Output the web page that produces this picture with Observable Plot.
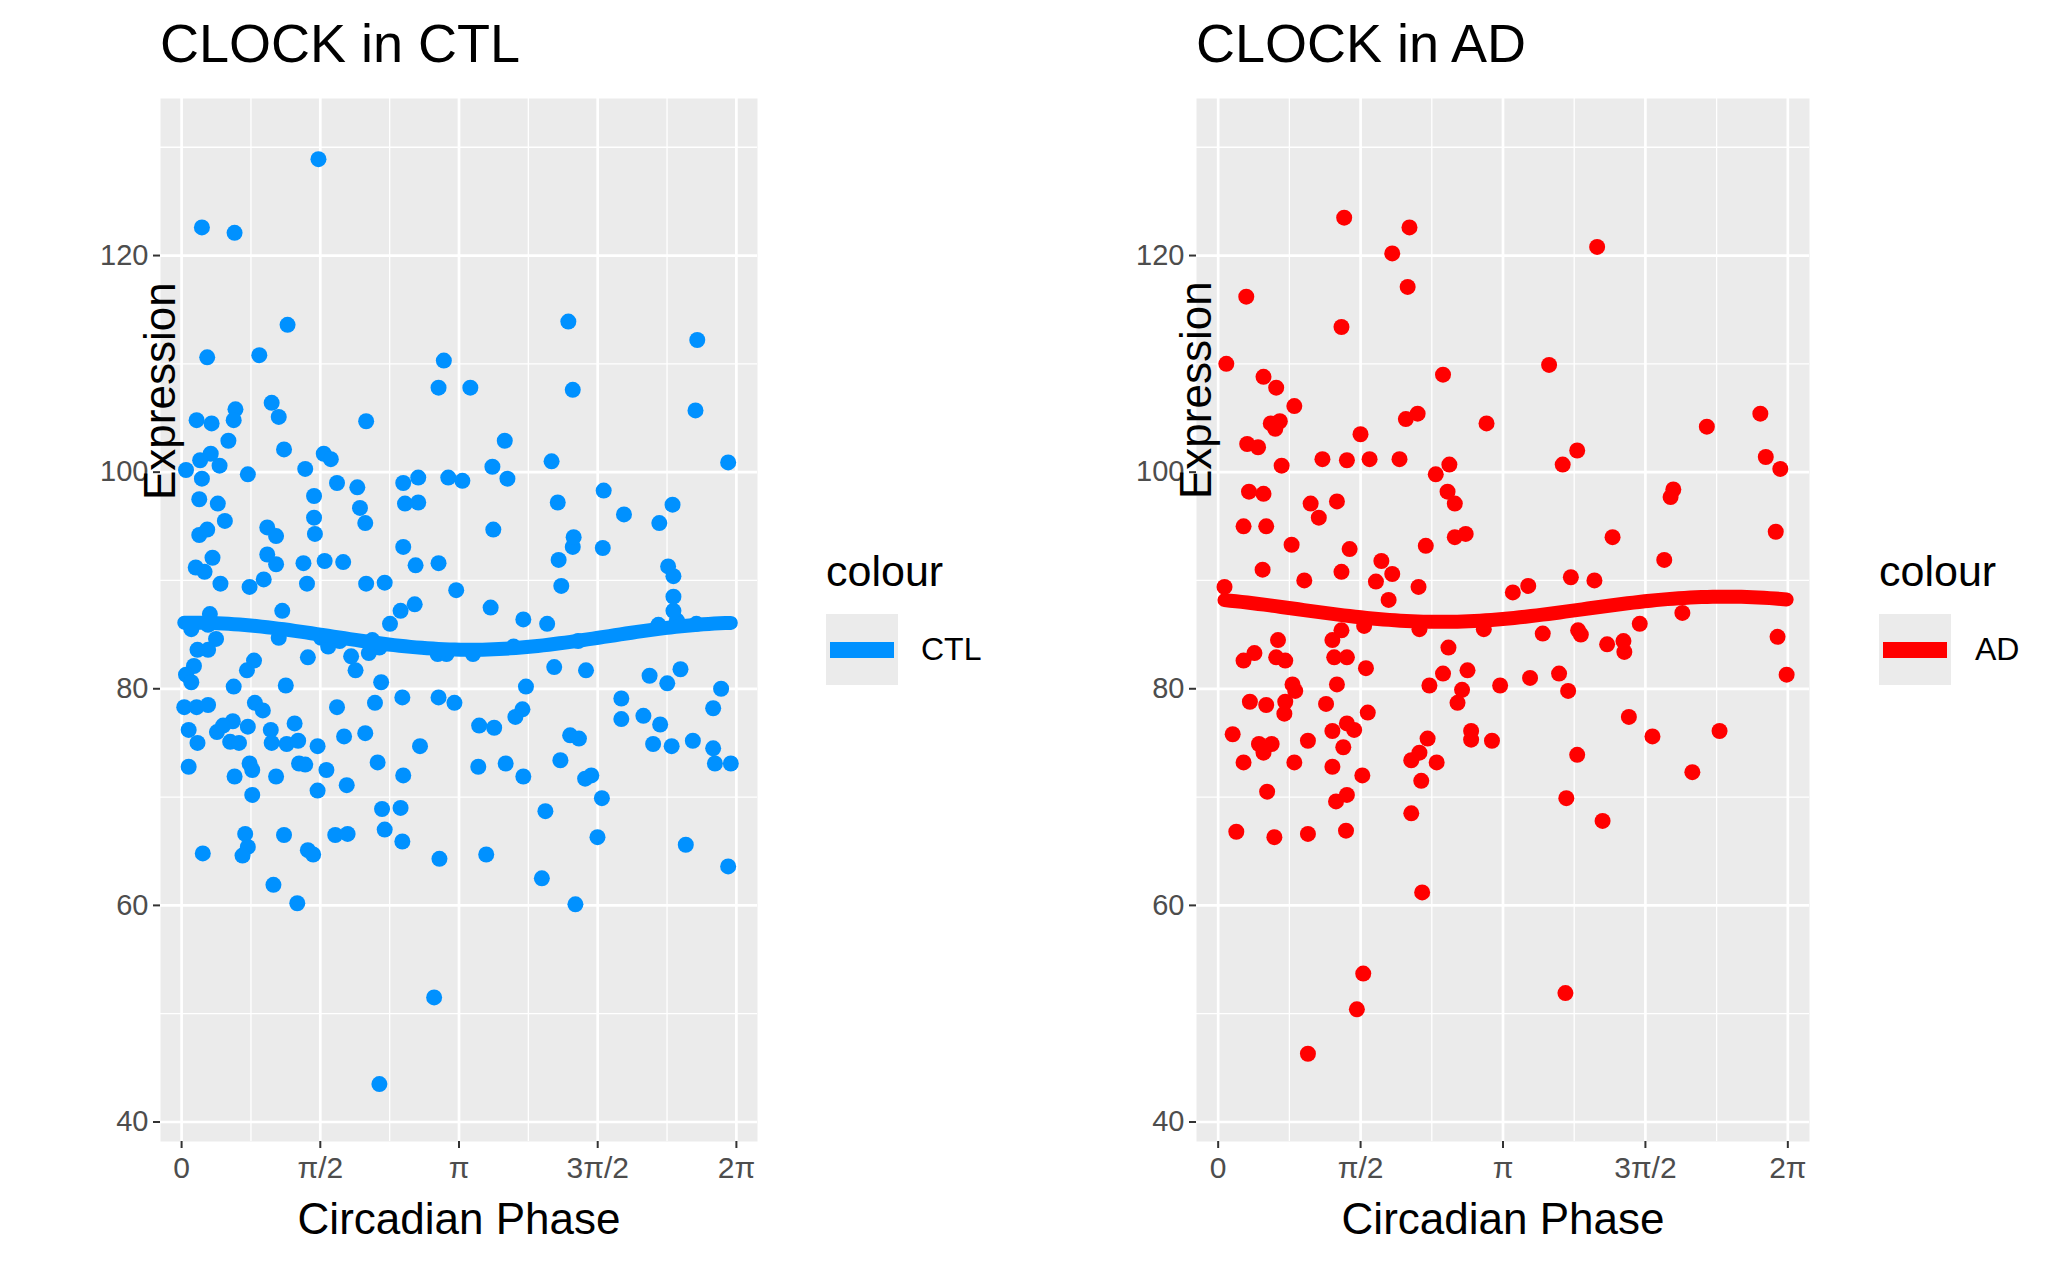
<!DOCTYPE html>
<html>
<head>
<meta charset="utf-8">
<script src="https://cdn.jsdelivr.net/npm/d3@7"></script>
<script src="https://cdn.jsdelivr.net/npm/@observablehq/plot@0.6"></script>
<style>
  body { margin: 0; background: white; font-family: "Liberation Sans", Arial, sans-serif; }
  #page { position: relative; width: 2071px; height: 1280px; overflow: hidden; }
  .panel { position: absolute; top: 0; width: 1035px; height: 1280px; }
  .title { position: absolute; top: 12px; font-size: 54px; color: black; white-space: nowrap; }
  .legtitle { position: absolute; top: 547px; font-size: 43px; color: black; }
  .key { position: absolute; top: 614px; width: 72px; height: 71px; background: #EBEBEB; }
  .key .ln { position: absolute; left: 4px; right: 4px; top: 28px; height: 16px; }
  .key .dot { position: absolute; left: 28px; top: 28px; width: 16px; height: 16px; border-radius: 8px; }
  .legtext { position: absolute; top: 631px; font-size: 32px; color: black; }
</style>
</head>
<body>
<div id="page">
  <div class="panel" id="p1" style="left:0"></div>
  <div class="panel" id="p2" style="left:1035px"></div>
  <div class="title" style="left:160px">CLOCK in CTL</div>
  <div class="title" style="left:1196px">CLOCK in AD</div>
  <div class="legtitle" style="left:826px">colour</div>
  <div class="key" style="left:826px"><div class="ln" style="background:#0091FF"></div><div class="dot" style="background:#0091FF"></div></div>
  <div class="legtext" style="left:921px">CTL</div>
  <div class="legtitle" style="left:1879px">colour</div>
  <div class="key" style="left:1879px"><div class="ln" style="background:#FF0000"></div><div class="dot" style="background:#FF0000"></div></div>
  <div class="legtext" style="left:1975px">AD</div>
</div>
<script>
// CTL: [phase, expression]
const ctlPoints = [
[1.55,128.9],[0.23,122.6],[0.60,122.1],[1.20,113.6],[4.38,113.9],[5.84,112.2],[0.29,110.6],[0.88,110.8],
[2.97,110.3],[2.91,107.8],[3.27,107.8],[4.43,107.6],[5.82,105.7],[1.02,106.4],[1.10,105.1],[0.61,105.8],
[0.59,104.8],[0.17,104.8],[0.34,104.5],[2.09,104.7],[3.66,102.9],[0.53,102.9],[1.16,102.1],[1.61,101.7],
[1.69,101.2],[0.33,101.7],[0.21,101.1],[0.43,100.6],[0.05,100.2],[0.23,99.4],[0.75,99.8],[1.40,100.3],
[3.52,100.5],[3.69,99.4],[4.19,101.0],[6.19,100.9],[1.76,99.0],[1.99,98.6],[2.51,99.0],[2.68,99.5],
[3.02,99.5],[3.18,99.2],[0.20,97.5],[0.41,97.1],[0.49,95.5],[1.50,97.8],[2.02,96.7],[2.08,95.3],
[2.53,97.1],[2.68,97.2],[4.26,97.2],[4.78,98.3],[5.56,97.0],[5.01,96.1],[5.41,95.3],[0.97,94.9],
[1.07,94.1],[0.20,94.2],[0.29,94.7],[1.50,95.8],[1.51,94.3],[3.53,94.7],[2.51,93.1],[4.43,93.1],
[4.44,94.0],[4.77,93.0],[0.97,92.4],[1.07,91.5],[1.38,91.6],[1.62,91.8],[1.83,91.7],[2.65,91.4],
[2.91,91.6],[4.27,91.9],[5.51,91.3],[5.57,90.4],[4.30,89.5],[0.35,92.1],[0.16,91.2],[0.26,90.8],
[0.44,89.7],[1.42,89.7],[2.09,89.7],[2.30,89.8],[0.77,89.4],[0.93,90.1],[3.11,89.1],[2.64,87.8],
[3.50,87.5],[5.57,88.5],[0.32,86.9],[1.14,87.2],[0.11,85.5],[0.30,85.9],[2.48,87.2],[2.36,86.0],
[3.87,86.4],[4.14,86.0],[5.61,86.3],[5.40,85.9],[5.83,86.0],[5.57,87.2],[0.39,84.6],[0.30,83.6],
[0.18,83.6],[1.10,84.7],[1.58,84.7],[1.79,84.4],[1.66,83.9],[2.16,84.5],[2.24,83.8],[2.12,83.3],
[1.92,83.0],[2.90,83.2],[3.00,83.2],[3.30,83.2],[3.76,83.9],[4.49,84.4],[1.43,82.9],[0.82,82.6],
[0.14,82.1],[0.05,81.3],[0.11,80.6],[1.97,81.7],[0.74,81.7],[0.59,80.2],[1.18,80.3],[2.26,80.6],
[3.90,80.2],[4.22,82.0],[4.58,81.7],[5.30,81.2],[5.65,81.8],[5.50,80.5],[6.11,80.0],[0.03,78.3],
[0.17,78.3],[0.30,78.5],[0.83,78.7],[0.92,78.0],[1.76,78.3],[2.19,78.7],[2.50,79.2],[2.91,79.2],
[3.09,78.7],[3.86,78.1],[3.78,77.4],[4.98,79.1],[4.98,77.2],[5.23,77.5],[5.42,76.7],[6.02,78.2],
[0.08,76.2],[0.40,76.0],[0.58,77.0],[0.47,76.6],[0.75,76.5],[1.01,76.2],[1.28,76.8],[0.18,75.0],
[0.55,75.1],[0.65,75.0],[1.02,75.0],[1.19,74.9],[1.32,75.2],[1.54,74.7],[1.84,75.6],[2.08,75.9],
[2.70,74.7],[3.37,76.6],[3.54,76.4],[4.40,75.7],[4.50,75.4],[5.34,74.9],[5.55,74.7],[5.79,75.2],
[6.02,74.5],[0.08,72.8],[0.77,73.1],[0.80,72.5],[1.07,71.9],[0.60,71.9],[1.33,73.1],[1.40,73.0],
[1.64,72.5],[2.22,73.2],[2.51,72.0],[3.36,72.8],[3.67,73.1],[3.87,71.9],[4.29,73.4],[4.57,71.7],
[4.64,72.0],[6.04,73.1],[6.22,73.1],[0.80,70.2],[1.54,70.6],[1.87,71.1],[4.76,69.9],[2.27,68.9],
[2.48,69.0],[4.12,68.7],[2.30,67.0],[0.72,66.6],[0.75,65.4],[0.69,64.6],[1.16,66.5],[1.74,66.5],
[1.88,66.6],[2.50,65.9],[4.71,66.3],[5.71,65.6],[0.24,64.8],[1.43,65.1],[1.49,64.7],[2.92,64.3],
[3.45,64.7],[6.19,63.6],[4.08,62.5],[1.04,61.9],[1.31,60.2],[4.46,60.1],[2.86,51.5],[2.24,43.5]
];
// AD: [phase, expression]
const adPoints = [
[1.39,123.5],[2.11,122.6],[1.92,120.2],[4.18,120.8],[0.31,116.2],[2.09,117.1],[1.36,113.4],[0.09,110.0],
[3.65,109.9],[2.48,109.0],[0.50,108.8],[0.64,107.8],[0.84,106.1],[0.58,104.5],[0.68,104.7],[0.63,104.0],
[2.07,104.9],[2.20,105.4],[2.96,104.5],[5.39,104.2],[5.98,105.4],[0.32,102.6],[0.44,102.3],[1.57,103.5],
[3.96,102.0],[1.15,101.2],[1.42,101.1],[1.67,101.2],[2.00,101.2],[6.04,101.4],[0.70,100.6],[2.55,100.7],
[3.80,100.7],[6.20,100.3],[2.40,99.8],[0.34,98.2],[0.50,98.0],[2.53,98.2],[2.61,97.1],[4.99,97.7],
[5.02,98.4],[1.02,97.1],[1.31,97.3],[1.11,95.8],[0.28,95.0],[0.53,95.0],[0.81,93.3],[1.45,92.9],
[2.29,93.2],[2.61,94.0],[2.73,94.3],[4.35,94.0],[6.15,94.5],[0.49,91.0],[1.36,90.8],[1.80,91.8],
[1.92,90.6],[1.74,89.9],[1.88,88.2],[0.95,90.0],[2.21,89.4],[0.07,89.4],[3.89,90.3],[4.15,90.0],
[4.92,91.9],[3.25,88.9],[3.42,89.5],[4.65,86.0],[5.12,87.0],[1.36,85.4],[1.61,85.8],[2.22,85.5],
[2.93,85.5],[3.58,85.1],[3.97,85.4],[4.00,85.0],[1.26,84.5],[0.66,84.5],[4.29,84.1],[4.47,84.4],
[4.48,83.4],[2.54,83.8],[6.17,84.8],[0.40,83.3],[0.28,82.6],[0.64,82.9],[0.74,82.6],[1.28,82.9],
[1.42,82.9],[1.31,80.4],[1.63,81.9],[2.75,81.7],[2.48,81.4],[3.44,81.0],[3.76,81.4],[6.27,81.3],
[2.33,80.3],[3.11,80.3],[0.82,80.4],[0.85,79.8],[3.86,79.8],[2.69,79.9],[2.64,78.7],[0.35,78.8],
[0.53,78.5],[1.19,78.6],[0.74,78.8],[0.73,77.7],[1.65,77.8],[4.53,77.4],[0.16,75.8],[1.26,76.1],
[1.42,76.8],[1.50,76.2],[1.38,74.6],[2.79,76.1],[2.79,75.3],[2.31,75.4],[0.99,75.2],[3.02,75.2],
[4.79,75.6],[5.53,76.1],[0.45,74.9],[0.59,74.9],[0.50,74.1],[3.96,73.9],[2.22,74.1],[0.28,73.2],
[0.84,73.2],[1.26,72.8],[2.13,73.4],[2.41,73.2],[1.59,72.0],[2.24,71.5],[5.23,72.3],[0.54,70.5],
[1.42,70.2],[1.30,69.6],[3.84,69.9],[2.13,68.5],[4.24,67.8],[0.20,66.8],[0.62,66.3],[0.99,66.6],
[1.41,66.9],[2.25,61.2],[1.60,53.7],[3.83,51.9],[1.53,50.4],[0.99,46.3]
];
const yTicks = [40, 60, 80, 100, 120];
const yMinor = [50, 70, 90, 110, 130];
const xTicks = [0, Math.PI / 2, Math.PI, 3 * Math.PI / 2, 2 * Math.PI];
const xTickLabels = ["0", "π/2", "π", "3π/2", "2π"];
const xMinor = [Math.PI / 4, 3 * Math.PI / 4, 5 * Math.PI / 4, 7 * Math.PI / 4];

// cosinor fit: y = a + b cos(x) + c sin(x), least squares
function cosinor(pts, n = 100) {
  const S = Array.from({length: 3}, () => [0, 0, 0, 0]);
  for (const [x, y] of pts) {
    const b = [1, Math.cos(x), Math.sin(x)];
    for (let r = 0; r < 3; r++) {
      for (let c = 0; c < 3; c++) S[r][c] += b[r] * b[c];
      S[r][3] += b[r] * y;
    }
  }
  for (let r = 0; r < 3; r++) {
    for (let k = r + 1; k < 3; k++) {
      const f = S[k][r] / S[r][r];
      for (let c = r; c < 4; c++) S[k][c] -= f * S[r][c];
    }
  }
  const beta = [0, 0, 0];
  for (let r = 2; r >= 0; r--) {
    let s = S[r][3];
    for (let c = r + 1; c < 3; c++) s -= S[r][c] * beta[c];
    beta[r] = s / S[r][r];
  }
  const [lo, hi] = d3.extent(pts, d => d[0]);
  return d3.range(n).map(i => {
    const x = lo + (hi - lo) * i / (n - 1);
    return [x, beta[0] + beta[1] * Math.cos(x) + beta[2] * Math.sin(x)];
  });
}

function panel(pts, color, mLeft, mRight) {
  return Plot.plot({
    width: 1035, height: 1280,
    marginLeft: mLeft, marginRight: mRight, marginTop: 98, marginBottom: 139,
    style: {fontFamily: "Liberation Sans, Arial, sans-serif", background: "transparent"},
    x: {domain: [-0.239, 2 * Math.PI + 0.239]},
    y: {domain: [38.2, 134.5]},
    marks: [
      Plot.frame({fill: "#EBEBEB", stroke: null}),
      Plot.ruleY(yMinor, {stroke: "white", strokeWidth: 1.3}),
      Plot.ruleX(xMinor, {stroke: "white", strokeWidth: 1.3}),
      Plot.ruleY(yTicks, {stroke: "white", strokeWidth: 2.7}),
      Plot.ruleX(xTicks, {stroke: "white", strokeWidth: 2.7}),
      Plot.axisY(yTicks, {tickSize: 7, tickPadding: 5, fontSize: 29, fill: "#4D4D4D", stroke: "#333", strokeWidth: 2, label: null}),
      Plot.axisX(xTicks, {tickSize: 7, tickPadding: 8, fontSize: 30, fill: "#4D4D4D", stroke: "#333", strokeWidth: 2, label: null,
        tickFormat: (d, i) => xTickLabels[i]}),
      Plot.dot(pts, {x: d => d[0], y: d => d[1], r: 8, fill: color, stroke: null}),
      Plot.line(cosinor(pts), {x: d => d[0], y: d => d[1], stroke: color, strokeWidth: 14}),
      Plot.text(["Circadian Phase"], {frameAnchor: "bottom", dy: 92, fontSize: 44, fill: "black"}),
      Plot.text(["Expression"], {frameAnchor: "left", dy: -(mLeft - 40), rotate: -90, fontSize: 44, fill: "black"})
    ]
  });
}

d3.select("#p1").append(() => panel(ctlPoints, "#0091FF", 160, 278));
d3.select("#p2").append(() => panel(adPoints, "#FF0000", 161, 261));
</script>
</body>
</html>
